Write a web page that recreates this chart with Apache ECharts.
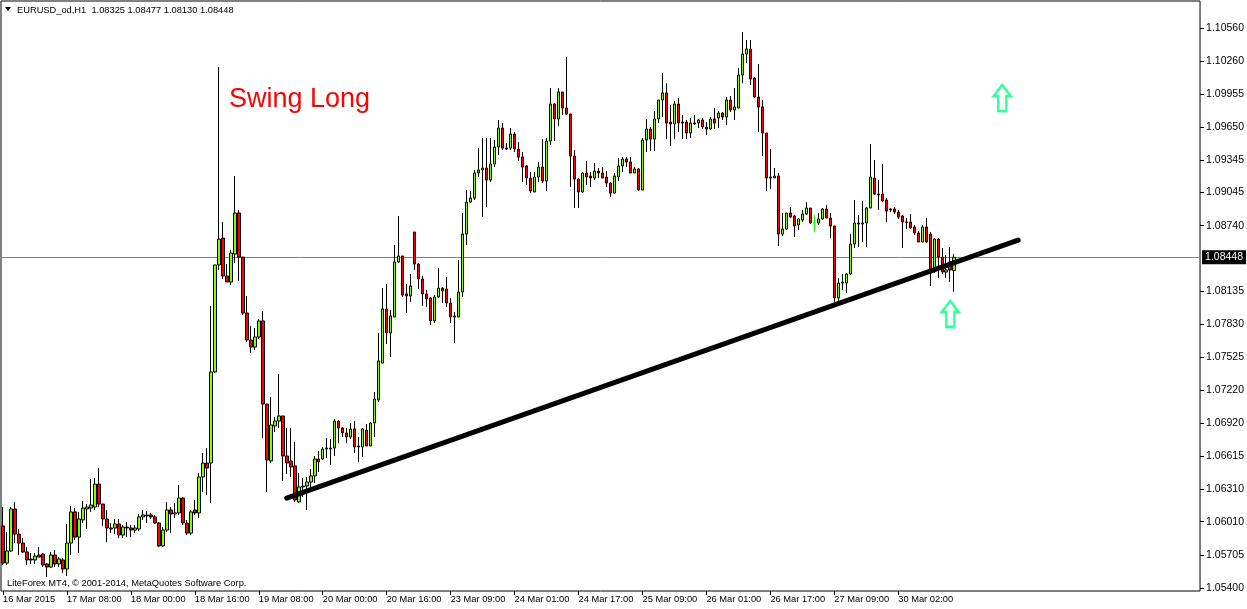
<!DOCTYPE html>
<html><head><meta charset="utf-8">
<script src="https://cdn.jsdelivr.net/npm/echarts@6/dist/echarts.min.js"></script>
<style>html,body{margin:0;padding:0;background:#fff}#c{width:1247px;height:609px}</style>
</head><body><div id="c"></div>
<script>
const symbolName = 'EURUSD_od,H1';
const lastBar = { open: 1.08325, high: 1.08477, low: 1.08130, close: 1.08448 };
const xTickLabels = ['16 Mar 2015','17 Mar 08:00','18 Mar 00:00','18 Mar 16:00','19 Mar 08:00','20 Mar 00:00','20 Mar 16:00','23 Mar 09:00','24 Mar 01:00','24 Mar 17:00','25 Mar 09:00','26 Mar 01:00','26 Mar 17:00','27 Mar 09:00','30 Mar 02:00'];
const barsPerTick = 16;
const totalSlots = 300;
const yTickValues = [1.05400,1.05705,1.06010,1.06310,1.06615,1.06920,1.07220,1.07525,1.07830,1.08135,1.08740,1.09045,1.09345,1.09650,1.09955,1.10260,1.10560];
// [open, close, low, high]
const candles = [
[1.05971,1.05629,1.05611,1.06145],[1.05629,1.05740,1.05611,1.05915],[1.05740,1.06127,1.05731,1.06145],[1.06127,1.05896,1.05813,1.06192],
[1.05896,1.05813,1.05703,1.05943],[1.05813,1.05731,1.05721,1.05859],[1.05731,1.05657,1.05611,1.05776],[1.05666,1.05657,1.05620,1.05721],
[1.05657,1.05694,1.05620,1.05721],[1.05703,1.05684,1.05684,1.05776],[1.05712,1.05611,1.05592,1.05721],[1.05620,1.05592,1.05500,1.05629],
[1.05592,1.05703,1.05583,1.05731],[1.05703,1.05620,1.05592,1.05749],[1.05620,1.05666,1.05592,1.05684],[1.05657,1.05574,1.05537,1.05675],
[1.05574,1.05813,1.05510,1.05989],[1.05813,1.06100,1.05703,1.06155],[1.06100,1.05868,1.05841,1.06136],[1.05868,1.06035,1.05721,1.06100],
[1.06026,1.06136,1.05998,1.06201],[1.06127,1.06145,1.05943,1.06173],[1.06136,1.06164,1.06100,1.06404],[1.06145,1.06357,1.06118,1.06413],
[1.06357,1.06173,1.06145,1.06505],[1.06173,1.06035,1.05971,1.06173],[1.06035,1.05952,1.05822,1.06118],[1.05952,1.05943,1.05905,1.05998],
[1.05952,1.05989,1.05896,1.06035],[1.05989,1.05887,1.05859,1.06035],[1.05887,1.05961,1.05859,1.05980],[1.05961,1.05952,1.05868,1.06007],
[1.05952,1.05933,1.05868,1.05980],[1.05933,1.05952,1.05905,1.05980],[1.05943,1.06054,1.05924,1.06081],[1.06054,1.06072,1.06026,1.06118],
[1.06072,1.06063,1.05998,1.06109],[1.06072,1.06054,1.06035,1.06091],[1.06054,1.05998,1.05989,1.06072],[1.05998,1.05786,1.05776,1.06007],
[1.05786,1.05933,1.05776,1.05961],[1.05933,1.06118,1.05915,1.06192],[1.06118,1.06081,1.05905,1.06145],[1.06081,1.06091,1.06044,1.06182],
[1.06091,1.06228,1.06072,1.06348],[1.06228,1.05998,1.05980,1.06238],[1.05998,1.05905,1.05887,1.06026],[1.05905,1.06100,1.05887,1.06118],
[1.06118,1.06091,1.06072,1.06210],[1.06091,1.06422,1.06044,1.06459],[1.06422,1.06551,1.06284,1.06643],[1.06551,1.06505,1.06256,1.06689],
[1.06551,1.07391,1.06182,1.07999],[1.07391,1.08377,1.07381,1.08377],[1.08377,1.08616,1.08331,1.10202],[1.08625,1.08276,1.08248,1.08774],
[1.08276,1.08220,1.08220,1.08386],[1.08220,1.08487,1.08192,1.08515],[1.08478,1.08856,1.08395,1.09198],[1.08856,1.08450,1.08229,1.08884],
[1.08450,1.07934,1.07916,1.08450],[1.07934,1.07685,1.07667,1.08091],[1.07685,1.07620,1.07565,1.07815],[1.07620,1.07713,1.07593,1.07796],
[1.07713,1.07861,1.07694,1.07879],[1.07861,1.07095,1.06781,1.07952],[1.07095,1.06579,1.06284,1.07095],[1.06570,1.06902,1.06551,1.07160],
[1.06892,1.06938,1.06837,1.06975],[1.06938,1.06985,1.06874,1.07372],[1.06985,1.06616,1.06385,1.06985],[1.06616,1.06551,1.06450,1.06874],
[1.06570,1.06514,1.06422,1.06874],[1.06524,1.06210,1.06192,1.06745],[1.06192,1.06330,1.06182,1.06459],[1.06330,1.06339,1.06238,1.06413],
[1.06339,1.06376,1.06118,1.06422],[1.06376,1.06432,1.06302,1.06496],[1.06432,1.06588,1.06367,1.06616],[1.06588,1.06561,1.06468,1.06662],
[1.06588,1.06680,1.06579,1.06699],[1.06680,1.06689,1.06597,1.06782],[1.06680,1.06689,1.06533,1.06772],[1.06689,1.06938,1.06616,1.06957],
[1.06938,1.06874,1.06735,1.06948],[1.06874,1.06828,1.06791,1.06883],[1.06828,1.06791,1.06735,1.06874],[1.06791,1.06865,1.06772,1.06920],
[1.06865,1.06699,1.06643,1.06938],[1.06708,1.06699,1.06561,1.06791],[1.06699,1.06865,1.06606,1.06874],[1.06855,1.06708,1.06708,1.06911],
[1.06708,1.06920,1.06708,1.06929],[1.06920,1.07141,1.06791,1.07206],[1.07132,1.07492,1.07114,1.07750],[1.07473,1.07971,1.07473,1.08164],
[1.07971,1.07750,1.07648,1.08201],[1.07750,1.07907,1.07528,1.07962],[1.07897,1.08404,1.07897,1.08561],[1.08404,1.08460,1.08395,1.08828],
[1.08460,1.08100,1.08082,1.08460],[1.08110,1.08091,1.07934,1.08201],[1.08091,1.08183,1.08036,1.08294],[1.08681,1.08386,1.08331,1.08681],
[1.08386,1.08248,1.08155,1.08395],[1.08248,1.08110,1.07999,1.08276],[1.08110,1.08064,1.07990,1.08146],[1.08073,1.07861,1.07824,1.08082],
[1.07861,1.08082,1.07842,1.08100],[1.08082,1.08164,1.08073,1.08349],[1.08164,1.08137,1.08027,1.08174],[1.08155,1.08027,1.07990,1.08266],
[1.08027,1.07897,1.07842,1.08073],[1.07907,1.07897,1.07657,1.07944],[1.07897,1.08128,1.07897,1.08423],[1.08128,1.08662,1.08082,1.08856],
[1.08662,1.08957,1.08561,1.09068],[1.08957,1.08994,1.08948,1.09059],[1.08994,1.09225,1.08976,1.09253],[1.09225,1.09253,1.09188,1.09455],
[1.09253,1.09271,1.08820,1.09548],[1.09271,1.09160,1.08912,1.09548],[1.09160,1.09308,1.09142,1.09548],[1.09308,1.09465,1.09280,1.09529],
[1.09465,1.09640,1.09391,1.09714],[1.09640,1.09455,1.09437,1.09686],[1.09455,1.09446,1.09437,1.09501],[1.09455,1.09584,1.09437,1.09640],
[1.09584,1.09446,1.09418,1.09603],[1.09446,1.09372,1.09335,1.09511],[1.09372,1.09280,1.09142,1.09418],[1.09290,1.09179,1.09114,1.09299],
[1.09179,1.09059,1.09040,1.09234],[1.09050,1.09188,1.09050,1.09234],[1.09188,1.09280,1.09142,1.09326],[1.09280,1.09151,1.09133,1.09538],
[1.09151,1.09520,1.09059,1.09548],[1.09520,1.09861,1.09483,1.10008],[1.09861,1.09723,1.09520,1.09870],[1.09723,1.09972,1.09658,1.10008],
[1.09972,1.09824,1.09760,1.09972],[1.09824,1.09769,1.09760,1.10294],[1.09769,1.09381,1.09096,1.09769],[1.09381,1.09170,1.08902,1.09437],
[1.09170,1.09050,1.08902,1.09179],[1.09050,1.09225,1.09040,1.09234],[1.09225,1.09188,1.09114,1.09335],[1.09197,1.09179,1.09096,1.09234],
[1.09179,1.09243,1.09160,1.09317],[1.09243,1.09225,1.09179,1.09271],[1.09225,1.09179,1.09179,1.09280],[1.09188,1.09133,1.09096,1.09243],
[1.09133,1.09040,1.09004,1.09142],[1.09040,1.09197,1.09040,1.09225],[1.09188,1.09290,1.09151,1.09363],[1.09290,1.09354,1.09234,1.09372],
[1.09354,1.09326,1.09280,1.09372],[1.09326,1.09225,1.09225,1.09372],[1.09225,1.09262,1.09225,1.09280],[1.09262,1.09068,1.09059,1.09271],
[1.09068,1.09529,1.09068,1.09548],[1.09529,1.09631,1.09418,1.09723],[1.09631,1.09538,1.09428,1.09649],[1.09538,1.09723,1.09428,1.09797],
[1.09723,1.09898,1.09686,1.09898],[1.09898,1.09963,1.09741,1.10147],[1.09963,1.09686,1.09538,1.10054],[1.09695,1.09677,1.09474,1.09852],
[1.09677,1.09861,1.09538,1.09889],[1.09861,1.09686,1.09603,1.09917],[1.09695,1.09686,1.09538,1.09760],[1.09695,1.09594,1.09538,1.09714],
[1.09594,1.09686,1.09548,1.09732],[1.09686,1.09677,1.09668,1.09760],[1.09686,1.09714,1.09640,1.09723],[1.09714,1.09649,1.09631,1.09732],
[1.09649,1.09631,1.09575,1.09695],[1.09631,1.09723,1.09621,1.09741],[1.09723,1.09686,1.09631,1.09824],[1.09732,1.09778,1.09640,1.09797],
[1.09778,1.09741,1.09714,1.09788],[1.09741,1.09898,1.09668,1.09926],[1.09898,1.09806,1.09788,1.09935],[1.09806,1.09834,1.09714,1.10008],
[1.09824,1.10128,1.09824,1.10193],[1.10128,1.10322,1.10054,1.10525],[1.10322,1.10368,1.10239,1.10451],[1.10368,1.10091,1.10036,1.10451],
[1.10101,1.09926,1.09917,1.10110],[1.09926,1.09834,1.09603,1.10230],[1.09834,1.09594,1.09381,1.09898],[1.09594,1.09179,1.09059,1.09594],
[1.09188,1.09179,1.09077,1.09446],[1.09179,1.09197,1.09179,1.09271],[1.09197,1.08662,1.08552,1.09225],[1.08662,1.08708,1.08644,1.08856],
[1.08708,1.08856,1.08699,1.08856],[1.08856,1.08819,1.08810,1.08911],[1.08829,1.08736,1.08635,1.08838],[1.08746,1.08801,1.08699,1.08810],
[1.08792,1.08847,1.08773,1.08884],[1.08847,1.08902,1.08838,1.08957],[1.08902,1.08764,1.08755,1.08902],[1.08764,1.08764,1.08681,1.08838],
[1.08764,1.08801,1.08746,1.08856],[1.08801,1.08893,1.08792,1.08902],[1.08893,1.08810,1.08810,1.08929],[1.08810,1.08736,1.08625,1.08856],
[1.08736,1.08073,1.08036,1.08736],[1.08073,1.08211,1.08045,1.08257],[1.08211,1.08220,1.08146,1.08294],[1.08211,1.08294,1.08118,1.08303],
[1.08294,1.08570,1.08285,1.08662],[1.08570,1.08764,1.08533,1.08976],[1.08755,1.08764,1.08542,1.08838],[1.08755,1.08764,1.08588,1.08967],
[1.08764,1.08902,1.08542,1.08911],[1.08902,1.09188,1.08902,1.09492],[1.09179,1.09031,1.09022,1.09345],[1.09031,1.09022,1.08884,1.09160],
[1.09031,1.08967,1.08957,1.09308],[1.08976,1.08875,1.08773,1.08994],[1.08893,1.08884,1.08865,1.08902],[1.08893,1.08865,1.08847,1.08911],
[1.08865,1.08819,1.08801,1.08884],[1.08829,1.08773,1.08533,1.08838],[1.08773,1.08770,1.08709,1.08810],[1.08773,1.08718,1.08709,1.08847],
[1.08727,1.08672,1.08653,1.08746],[1.08672,1.08589,1.08589,1.08690],[1.08589,1.08727,1.08589,1.08746],[1.08727,1.08589,1.08580,1.08810],
[1.08662,1.08331,1.08183,1.08681],[1.08331,1.08616,1.08303,1.08625],[1.08616,1.08450,1.08257,1.08625],[1.08450,1.08312,1.08294,1.08533],
[1.08312,1.08331,1.08257,1.08469],[1.08404,1.08331,1.08220,1.08542],[1.08325,1.08448,1.08130,1.08477]
];
// trend line anchors: [bar index, price]
const trendLine = [[71, 1.06228], [254, 1.08607]];
// arrow objects: [bar index, price]
const arrowMarks = [[250, 1.09916], [237, 1.07925]];
const annotationText = 'Swing Long';
const copyrightText = 'LiteForex MT4, \u00A9 2001-2014, MetaQuotes Software Corp.';

const cats = Array.from({ length: totalSlots }, (_, i) => 'b' + i);
const tickShown = i => i % barsPerTick === 0 && (i / barsPerTick) < xTickLabels.length;
const FONT = '"Liberation Sans", Arial, sans-serif';
// doji bars (open == close) are drawn as a plain lime cross, as MT4 does
const candleData = candles.map(c => c[0] === c[1]
  ? { value: c, itemStyle: { borderColor: '#00FF00', borderColor0: '#00FF00', borderColorDoji: '#00FF00' } }
  : c);

const chart = echarts.init(document.getElementById('c'), null, { renderer: 'canvas' });
chart.setOption({
  animation: false,
  backgroundColor: '#ffffff',
  grid: { left: 1, right: 46, top: 1, bottom: 18, show: true, borderColor: '#000', borderWidth: 1, backgroundColor: 'transparent' },
  xAxis: {
    type: 'category', data: cats, boundaryGap: true,
    axisLine: { show: false },
    axisTick: { show: true, alignWithLabel: true, interval: (i) => tickShown(i), length: 4, lineStyle: { color: '#000' } },
    axisLabel: { interval: (i) => tickShown(i), formatter: (v, i) => xTickLabels[i / barsPerTick] || '', align: 'left', margin: 4, fontFamily: FONT, fontSize: 9.3, color: '#000' },
    splitLine: { show: false }
  },
  yAxis: {
    type: 'value', position: 'right', min: 1.05371, max: 1.10811,
    axisLine: { show: false },
    axisTick: { show: true, customValues: yTickValues, length: 4, lineStyle: { color: '#000' } },
    axisLabel: { customValues: yTickValues, formatter: v => v.toFixed(5), margin: 6, fontFamily: FONT, fontSize: 10.5, color: '#000' },
    splitLine: { show: false }
  },
  series: [
    {
      type: 'candlestick', data: candleData, barWidth: 3, z: 3,
      itemStyle: { color: '#7FFF00', color0: '#FF0000', borderColor: '#000', borderColor0: '#000', borderWidth: 1 },
      markLine: {
        silent: true, symbol: ['none', 'none'], animation: false, precision: 5,
        data: [
          [ { coord: trendLine[0], lineStyle: { color: '#000', width: 5, type: 'solid', cap: 'round' }, label: { show: false } },
            { coord: trendLine[1] } ]
        ]
      }
    },
    {
      type: 'scatter', data: arrowMarks, z: 5,
      symbol: 'path://M10.5,0 L21,11 L15.5,11 L15.5,26 L5.5,26 L5.5,11 L0,11 Z',
      symbolSize: [21, 26], symbolKeepAspect: true,
      itemStyle: { color: '#ffffff', borderColor: '#00FF7F', borderWidth: 2.5 },
      markLine: {
        silent: true, symbol: ['none', 'none'], animation: false, precision: 5, z: 1,
        data: [
          { yAxis: lastBar.close, lineStyle: { color: '#808080', width: 1, type: 'solid' },
            label: { show: true, position: 'end', formatter: () => lastBar.close.toFixed(5), backgroundColor: '#000', color: '#fff', padding: [2, 3, 1, 3], distance: 2, fontFamily: FONT, fontSize: 10.5 } }
        ]
      }
    }
  ],
  graphic: [
    { type: 'polygon', shape: { points: [[5, 7], [11, 7], [8, 11]] }, style: { fill: '#000' } },
    { type: 'text', x: 17, y: 10, style: { text: symbolName + '  ' + [lastBar.open, lastBar.high, lastBar.low, lastBar.close].map(v => v.toFixed(5)).join(' '), font: '9.3px ' + FONT, fill: '#000', verticalAlign: 'middle' } },
    { type: 'text', x: 229, y: 100, style: { text: annotationText, font: '27px ' + FONT, fill: '#FF0000', verticalAlign: 'middle' } },
    { type: 'text', x: 7, y: 583, style: { text: copyrightText, font: '9.3px ' + FONT, fill: '#000', verticalAlign: 'middle' } }
  ]
});
</script>
</body></html>
